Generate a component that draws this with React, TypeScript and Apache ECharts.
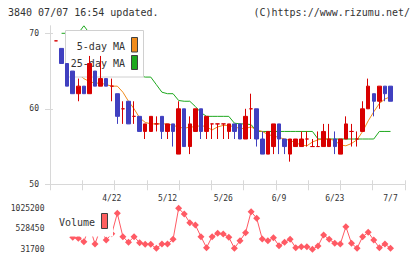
import React, { useEffect, useRef } from 'react';
import * as echarts from 'echarts';

const dates = [
  '4/8', '4/9', '4/10', '4/11', '4/14', '4/15', '4/16', '4/17', '4/18', '4/21',
  '4/22', '4/23', '4/24', '4/25', '4/28', '4/30', '5/1', '5/7', '5/8', '5/9',
  '5/12', '5/13', '5/14', '5/15', '5/16', '5/19', '5/20', '5/21', '5/22', '5/23',
  '5/26', '5/27', '5/28', '5/29', '5/30', '6/2', '6/3', '6/4', '6/5', '6/6',
  '6/9', '6/10', '6/11', '6/12', '6/13', '6/16', '6/17', '6/18', '6/19', '6/20',
  '6/23', '6/24', '6/25', '6/26', '6/27', '6/30', '7/1', '7/2', '7/3', '7/4', '7/7',
];
const dateLabels = ['4/22', '5/12', '5/26', '6/9', '6/23', '7/7'];

const opens = [
  69, 68, 66, 65, 62, 63, 62, 65, 63, 64,
  63, 62, 60, 61, 59, 59, 57, 57, 58, 59,
  57, 58, 54, 60, 55, 57, 60, 57, 58, 58,
  58, 57, 58, 58, 56, 60, 60, 56, 54, 55,
  58, 56, 54, 55, 55, 56, 55, 55, 55, 55,
  56, 54, 56, 57, 56, 57, 60, 62, 61, 63, 63,
];
const closes = [
  69, 66, 63, 62, 63, 62, 66, 63, 64, 63,
  63, 59, 60, 58, 59, 57, 58, 59, 58, 57,
  58, 57, 60, 55, 58, 60, 57, 59, 58, 58,
  58, 58, 57, 56, 59, 60, 56, 54, 57, 58,
  56, 55, 56, 56, 56, 56, 55, 55, 57, 56,
  55, 56, 58, 57, 56, 60, 63, 61, 63, 62, 61,
];
const lows = [
  69, 66, 63, 62, 61, 62, 62, 63, 63, 63,
  61, 58, 58, 58, 58, 57, 56, 57, 57, 56,
  56, 55, 54, 55, 54, 57, 56, 56, 56, 56,
  56, 56, 56, 56, 56, 56, 55, 54, 54, 54,
  54, 54, 53, 55, 55, 55, 55, 55, 55, 55,
  54, 54, 56, 55, 55, 57, 60, 59, 60, 61, 61,
];
const highs = [
  69, 68, 66, 65, 64, 63, 67, 65, 67, 64,
  64, 62, 61, 61, 61, 59, 58, 59, 59, 59,
  58, 58, 61, 60, 59, 60, 60, 59, 58, 58,
  58, 58, 58, 58, 60, 62, 60, 57, 57, 58,
  58, 56, 56, 56, 57, 57, 56, 57, 58, 58,
  57, 56, 59, 58, 57, 61, 64, 62, 63, 63, 63,
];

const ma5 = [
  null, null, null, null, 64.6, 64, 63.6, 63.4, 63.4, 63.2,
  63, 63, 62.2, 61, 60, 58.8, 58.2, 58, 58, 58,
  58, 57.8, 57.6, 57.4, 57.6, 57.6, 57.8, 57.6, 57.2, 57.6,
  57.8, 57.8, 57.6, 57.4, 57.4, 57.6, 57.2, 57, 56.6, 56.4,
  56.2, 56, 55.8, 55.5, 55.2, 55.1, 55.6, 55.9, 56, 56,
  55.8, 55.2, 55.1, 55.4, 55.9, 57, 58.4, 59.6, 60.7, 61.3, 61.6,
];
const ma25 = [
  null, 70, 70, 70, 70, 71, 70, 69, 69, 68,
  68, 67, 66, 65, 65, 64.4, 64.2, 64.2, 63.2, 62.2,
  62, 62, 61.1, 61, 61, 60.3, 59.5, 59, 59, 59,
  59, 59, 58.1, 58, 58, 57.9, 57, 57, 57, 57,
  57, 57, 57, 57, 57, 57, 57, 56, 56, 56,
  56, 56, 56, 56, 56, 56, 56, 56, 57, 57, 57,
];

const volumes = [
  null, null, null, 322000, 298000, 216000, 600000, 160000, 550000, 257000,
  407000, 904000, 337000, 201000, 337000, 192000, 153000, 153000, 56000, 160000,
  160000, 274000, 1025200, 887000, 676000, 620000, 337000, 71000, 337000, 420000,
  402000, 322000, 60000, 240000, 434000, 943000, 783000, 281000, 240000, 313000,
  119000, 201000, 274000, 71000, 95000, 95000, 31700, 112000, 378000, 274000,
  177000, 160000, 579000, 177000, 56000, 337000, 443000, 257000, 71000, 160000, 56000,
];
const volumeTicks = ['31700', '528450', '1025200'];

const RED = '#d80000';
const BLUE = '#4040c0';
const ORANGE = '#f08c1c';
const GREEN = '#1ea81e';
const VOL = '#ff5a64';
const AXIS = '#d8d8d8';
const TEXT = '#333333';
const MONO = '"DejaVu Sans Mono", monospace';

export default function App() {
  const ref = useRef<HTMLDivElement>(null);

  useEffect(() => {
    if (!ref.current) return;
    const chart = echarts.init(ref.current, undefined, { renderer: 'svg' });

    const candleData = dates.map((_, i) => {
      const v = [opens[i], closes[i], lows[i], highs[i]];
      if (opens[i] === closes[i]) {
        return { value: v, itemStyle: { color: RED, borderColor: RED } };
      }
      return v;
    });

    const labelStyle = { color: TEXT, fontFamily: MONO, fontSize: 8 };

    chart.setOption({
      animation: false,
      backgroundColor: '#ffffff',
      grid: [
        { left: 50, top: 25.75, width: 355, height: 158.55 },
        { left: 56, top: 25.75, width: 334.5, height: 158.55 },
        { left: 56, top: 208.3, width: 334.5, height: 41 },
        { left: 50, top: 33.3, width: 355, height: 151 },
      ],
      xAxis: [
        {
          gridIndex: 0, type: 'value', min: 0, max: 11, interval: 1, position: 'bottom',
          axisLine: { show: true, lineStyle: { color: AXIS, width: 1 } },
          axisTick: { show: true, length: 6, lineStyle: { color: AXIS } },
          axisLabel: { show: false }, splitLine: { show: false },
        },
        {
          gridIndex: 0, type: 'value', min: 0, max: 11, interval: 1, position: 'bottom',
          axisLine: { show: false },
          axisTick: { show: true, inside: true, length: 4, lineStyle: { color: AXIS } },
          axisLabel: { show: false }, splitLine: { show: false },
        },
        { gridIndex: 3, type: 'value', min: 0, max: 11, show: false },
        {
          gridIndex: 1, type: 'category', data: dates, boundaryGap: false,
          axisLine: { show: false }, axisTick: { show: false }, splitLine: { show: false },
          axisLabel: {
            ...labelStyle,
            margin: 10,
            interval: (_i: number, v: string) => dateLabels.includes(v),
          },
        },
        { gridIndex: 2, type: 'category', data: dates, boundaryGap: false, show: false },
      ],
      yAxis: [
        {
          gridIndex: 0, type: 'value', min: 50, max: 71,
          axisLine: { show: true, lineStyle: { color: AXIS, width: 1 } },
          axisTick: { show: false }, axisLabel: { show: false }, splitLine: { show: false },
        },
        {
          gridIndex: 3, type: 'value', min: 50, max: 70, interval: 10, position: 'left',
          axisLine: { show: false },
          axisTick: { show: true, length: 5, lineStyle: { color: AXIS } },
          axisLabel: { ...labelStyle, margin: 11 },
          splitLine: { show: false },
        },
        {
          gridIndex: 3, type: 'value', min: 50, max: 70, interval: 10, position: 'left',
          axisLine: { show: false },
          axisTick: { show: true, inside: true, length: 3, lineStyle: { color: AXIS } },
          axisLabel: { show: false }, splitLine: { show: false },
        },
        { gridIndex: 1, type: 'value', min: 50, max: 71, show: false },
        { gridIndex: 2, type: 'value', min: 31700, max: 1025200, show: false },
        {
          gridIndex: 2, type: 'category', data: volumeTicks, boundaryGap: false, position: 'left',
          axisLine: { show: false }, axisTick: { show: false }, splitLine: { show: false },
          axisLabel: { ...labelStyle, margin: 11.5 },
        },
      ],
      series: [
        {
          name: '25-day MA', type: 'line', xAxisIndex: 3, yAxisIndex: 3, data: ma25,
          symbol: 'none', z: 1, lineStyle: { color: GREEN, width: 1 },
        },
        {
          name: '5-day MA', type: 'line', xAxisIndex: 3, yAxisIndex: 3, data: ma5,
          symbol: 'none', z: 1, lineStyle: { color: ORANGE, width: 1 },
        },
        {
          name: 'Price', type: 'candlestick', xAxisIndex: 3, yAxisIndex: 3, data: candleData,
          barWidth: 4, clip: false, z: 5,
          itemStyle: { color: RED, color0: BLUE, borderColor: RED, borderColor0: BLUE, borderWidth: 1 },
        },
        {
          name: 'Volume', type: 'line', xAxisIndex: 4, yAxisIndex: 4, data: volumes,
          symbol: 'diamond', symbolSize: 7, showSymbol: true, showAllSymbol: true, z: 2,
          itemStyle: { color: VOL }, lineStyle: { color: VOL, width: 1 },
        },
      ],
      graphic: [
        {
          type: 'text', left: 8, top: 7, z: 10,
          style: { text: '3840 07/07 16:54 updated.', fill: TEXT, font: `10px ${MONO}` },
        },
        {
          type: 'text', right: 10, top: 7, z: 10,
          style: { text: '(C)https://www.rizumu.net/', fill: TEXT, font: `10px ${MONO}` },
        },
        {
          type: 'rect', z: 3,
          shape: { x: 65.5, y: 30.5, width: 78, height: 46.5 },
          style: { fill: '#ffffff', stroke: '#d0d0d0', lineWidth: 1 },
        },
        {
          type: 'text', x: 125, y: 46, z: 3,
          style: { text: '5-day MA', fill: TEXT, font: `10px ${MONO}`, textAlign: 'right', textVerticalAlign: 'middle' },
        },
        {
          type: 'text', x: 125, y: 63.5, z: 3,
          style: { text: '25-day MA', fill: TEXT, font: `10px ${MONO}`, textAlign: 'right', textVerticalAlign: 'middle' },
        },
        {
          type: 'rect', z: 3,
          shape: { x: 131.5, y: 37.5, width: 6, height: 14.5 },
          style: { fill: ORANGE, stroke: '#404040', lineWidth: 1 },
        },
        {
          type: 'rect', z: 3,
          shape: { x: 131.5, y: 55.5, width: 6, height: 14 },
          style: { fill: GREEN, stroke: '#404040', lineWidth: 1 },
        },
        {
          type: 'rect', z: 10,
          shape: { x: 52, y: 203, width: 61, height: 33.5 },
          style: { fill: '#ffffff', stroke: null },
        },
        {
          type: 'text', x: 59, y: 222.3, z: 11,
          style: { text: 'Volume', fill: TEXT, font: `10px ${MONO}`, textAlign: 'left', textVerticalAlign: 'middle' },
        },
        {
          type: 'rect', z: 11,
          shape: { x: 101.5, y: 213.5, width: 6, height: 15 },
          style: { fill: '#ff6060', stroke: '#404040', lineWidth: 1 },
        },
      ],
    });

    return () => chart.dispose();
  }, []);

  return (
    <div
      ref={ref}
      style={{ position: 'fixed', left: 0, top: 0, width: 420, height: 259, background: '#fff' }}
    />
  );
}
